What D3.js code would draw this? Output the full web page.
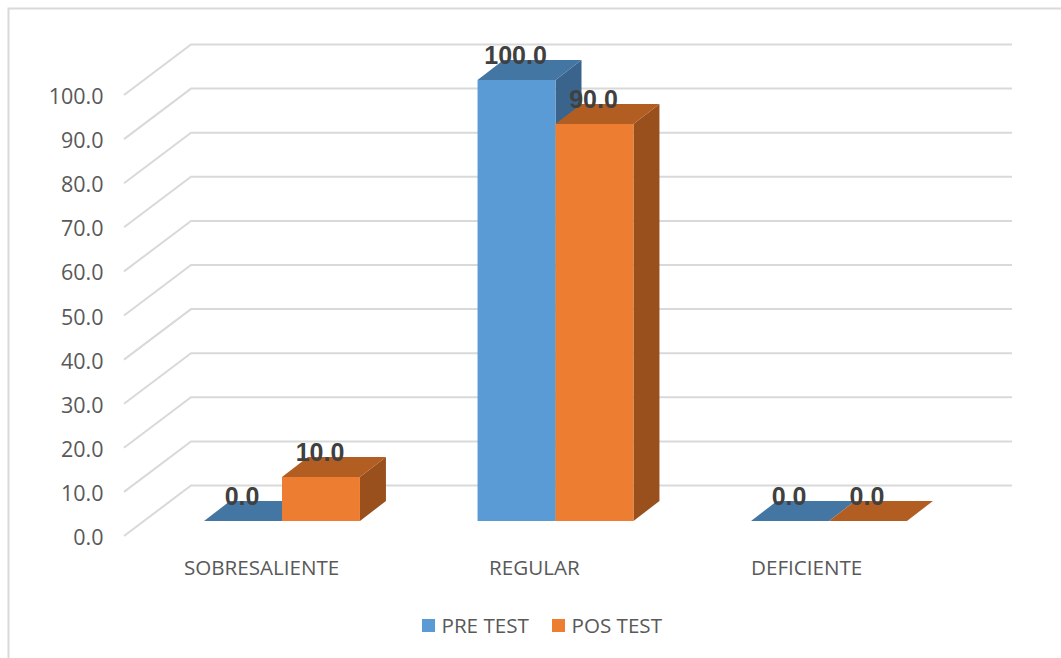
<!DOCTYPE html>
<html>
<head>
<meta charset="utf-8">
<script src="https://cdnjs.cloudflare.com/ajax/libs/d3/7.8.5/d3.min.js"></script>
<style>
  html, body { margin: 0; padding: 0; background: #fff; }
  svg { display: block; }
  .plain { font-family: "Open Sans", "Noto Sans", sans-serif; fill: #595959; }
  .value { font-family: "Liberation Sans", Arial, sans-serif; font-weight: 700; fill: #404040; }
</style>
</head>
<body>
<svg id="chart" width="1061" height="658"></svg>
<script>
const categories = ["SOBRESALIENTE", "REGULAR", "DEFICIENTE"];
const seriesNames = ["PRE TEST", "POS TEST"];
const preTest = [0, 100, 0];
const posTest = [10, 90, 0];
const axisTicks = [0, 10, 20, 30, 40, 50, 60, 70, 80, 90, 100];

const faceColors = [
  { front: "#5b9bd5", top: "#4476a4", side: "#3a648c" },
  { front: "#ed7d31", top: "#b25e22", side: "#99501c" }
];

const svg = d3.select("#chart");
const fmt = d3.format(".1f");

// Oblique projection: the depth of the plot box moves a point right and up.
const wallDx = 67, wallDy = -50.5;
const barDx = 26, barDy = -20;

const yFront = d3.scaleLinear().domain([0, 100]).range([536, 95]);
const yWall = v => yFront(v) + wallDy;
const yBar = d3.scaleLinear().domain([0, 100]).range([521, 80]);

const x = d3.scaleBand().domain(categories).range([145.25, 965.75])
  .paddingInner(0.43).paddingOuter(0.215);
const xSeries = d3.scaleBand().domain(d3.range(2)).range([0, x.bandwidth()]);
const wallRight = 1012;

// Outer frame of the chart area: open on the right and at the bottom
svg.append("path")
  .attr("d", "M8.5,658V8.5H1061")
  .attr("fill", "none").attr("stroke", "#d9d9d9").attr("stroke-width", 2);

// Floor-to-wall gridlines
const grid = svg.append("g").attr("fill", "none").attr("stroke", "#d9d9d9").attr("stroke-width", 2);
grid.selectAll("path").data(axisTicks).join("path")
  .attr("d", v => {
    const p = d3.path();
    p.moveTo(124, yFront(v));
    p.lineTo(124 + wallDx, yWall(v));
    p.lineTo(wallRight, yWall(v));
    return p.toString();
  });

// Value axis labels
svg.append("g").selectAll("text").data(axisTicks).join("text")
  .attr("class", "plain")
  .attr("x", 103.5).attr("y", v => yFront(v) + 9)
  .attr("text-anchor", "end").attr("font-size", 21.5)
  .text(v => fmt(v));

// Category labels start near the first bar of each group
const categoryLabelX = [184, 489, 751];
svg.append("g").selectAll("text").data(categories).join("text")
  .attr("class", "plain")
  .attr("x", (d, i) => categoryLabelX[i]).attr("y", 575)
  .attr("font-size", 20.6)
  .text(d => d);

// 3D bars
const rows = [];
categories.forEach((c, i) => {
  [preTest, posTest].forEach((vals, s) => rows.push({ cat: c, s, value: vals[i] }));
});

function poly(points) { return d3.line()(points) + "Z"; }

const bars = svg.append("g").selectAll("g").data(rows).join("g");
bars.each(function (d) {
  const g = d3.select(this);
  const colors = faceColors[d.s];
  const x0 = x(d.cat) + xSeries(d.s);
  const x1 = x0 + xSeries.bandwidth();
  const yb = yBar(0), yt = yBar(d.value);
  if (d.value > 0) {
    g.append("path").attr("fill", colors.side).attr("d", poly([
      [x1, yt], [x1 + barDx, yt + barDy], [x1 + barDx, yb + barDy], [x1, yb]
    ]));
  }
  g.append("path").attr("fill", colors.top).attr("d", poly([
    [x0, yt], [x1, yt], [x1 + barDx, yt + barDy], [x0 + barDx, yt + barDy]
  ]));
  if (d.value > 0) {
    g.append("path").attr("fill", colors.front).attr("d", poly([
      [x0, yt], [x1, yt], [x1, yb], [x0, yb]
    ]));
  }
});

// Data labels sit on the back edge of each bar's top face
svg.append("g").selectAll("text").data(rows).join("text")
  .attr("class", "value")
  .attr("x", d => x(d.cat) + xSeries(d.s) + xSeries.bandwidth() / 2 - 1)
  .attr("y", d => yBar(d.value) + barDy + 4)
  .attr("text-anchor", "middle")
  .attr("font-size", 25)
  .text(d => fmt(d.value));

// Legend
const legendX = [422, 552];
const legend = svg.append("g").selectAll("g").data(seriesNames).join("g");
legend.append("rect")
  .attr("x", (d, i) => legendX[i]).attr("y", 619)
  .attr("width", 13).attr("height", 13)
  .attr("fill", (d, i) => faceColors[i].front);
legend.append("text")
  .attr("class", "plain")
  .attr("x", (d, i) => legendX[i] + 19.5).attr("y", 632.5)
  .attr("font-size", 20.6)
  .text(d => d);
</script>
</body>
</html>
